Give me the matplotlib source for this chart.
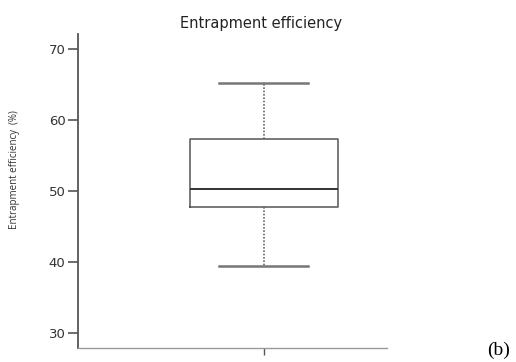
import matplotlib
matplotlib.use("Agg")
import matplotlib.pyplot as plt

# box summary
label = "Entrapment efficiency"
whislo = 39.4
q1 = 47.8
med = 50.3
q3 = 57.3
whishi = 65.2
yticks = [30, 40, 50, 60, 70]

stats = [dict(label="", whislo=whislo, q1=q1, med=med, q3=q3, whishi=whishi, fliers=[])]

fig = plt.figure(figsize=(5.16, 3.62), dpi=100)
ax = fig.add_axes([0.151, 0.039, 0.599, 0.867])

ax.bxp(stats, positions=[1], widths=0.5, showfliers=False,
       boxprops=dict(color="#555555", linewidth=1.1),
       medianprops=dict(color="#333333", linewidth=1.4),
       whiskerprops=dict(color="#666666", linewidth=1.2, linestyle=(0, (1, 1))),
       capprops=dict(color="#777777", linewidth=1.8),
       capwidths=0.3)

ax.set_xlim(0.372, 1.416)
ax.set_ylim(27.9, 72.1)
ax.set_yticks(yticks)
ax.set_xticks([1])
ax.set_xticklabels([""])

for s in ["top", "right"]:
    ax.spines[s].set_visible(False)
ax.spines["left"].set_color("#555555")
ax.spines["left"].set_linewidth(1.3)
ax.spines["bottom"].set_color("#999999")
ax.spines["bottom"].set_linewidth(1.0)

ax.tick_params(axis="y", length=7, width=1.2, color="#555555", pad=2,
               labelsize=9.5, labelcolor="#333333")
ax.tick_params(axis="x", length=5, width=1.0, color="#555555")
for t in ax.get_yticklabels():
    t.set_family("DejaVu Sans")

ax.set_title(label, x=0.592, y=1.0, pad=4.5, fontsize=10.5, color="#222222", family="DejaVu Sans")
ax.set_ylabel("Entrapment efficiency  (%)", fontsize=7, color="#333333", family="Open Sans")
ax.yaxis.set_label_coords(-0.188, 0.567)

fig.text(0.967, 0.033, "(b)", ha="center", va="center", fontsize=14,
         family="Liberation Serif", color="black")

fig.savefig("out.png", dpi=100)
